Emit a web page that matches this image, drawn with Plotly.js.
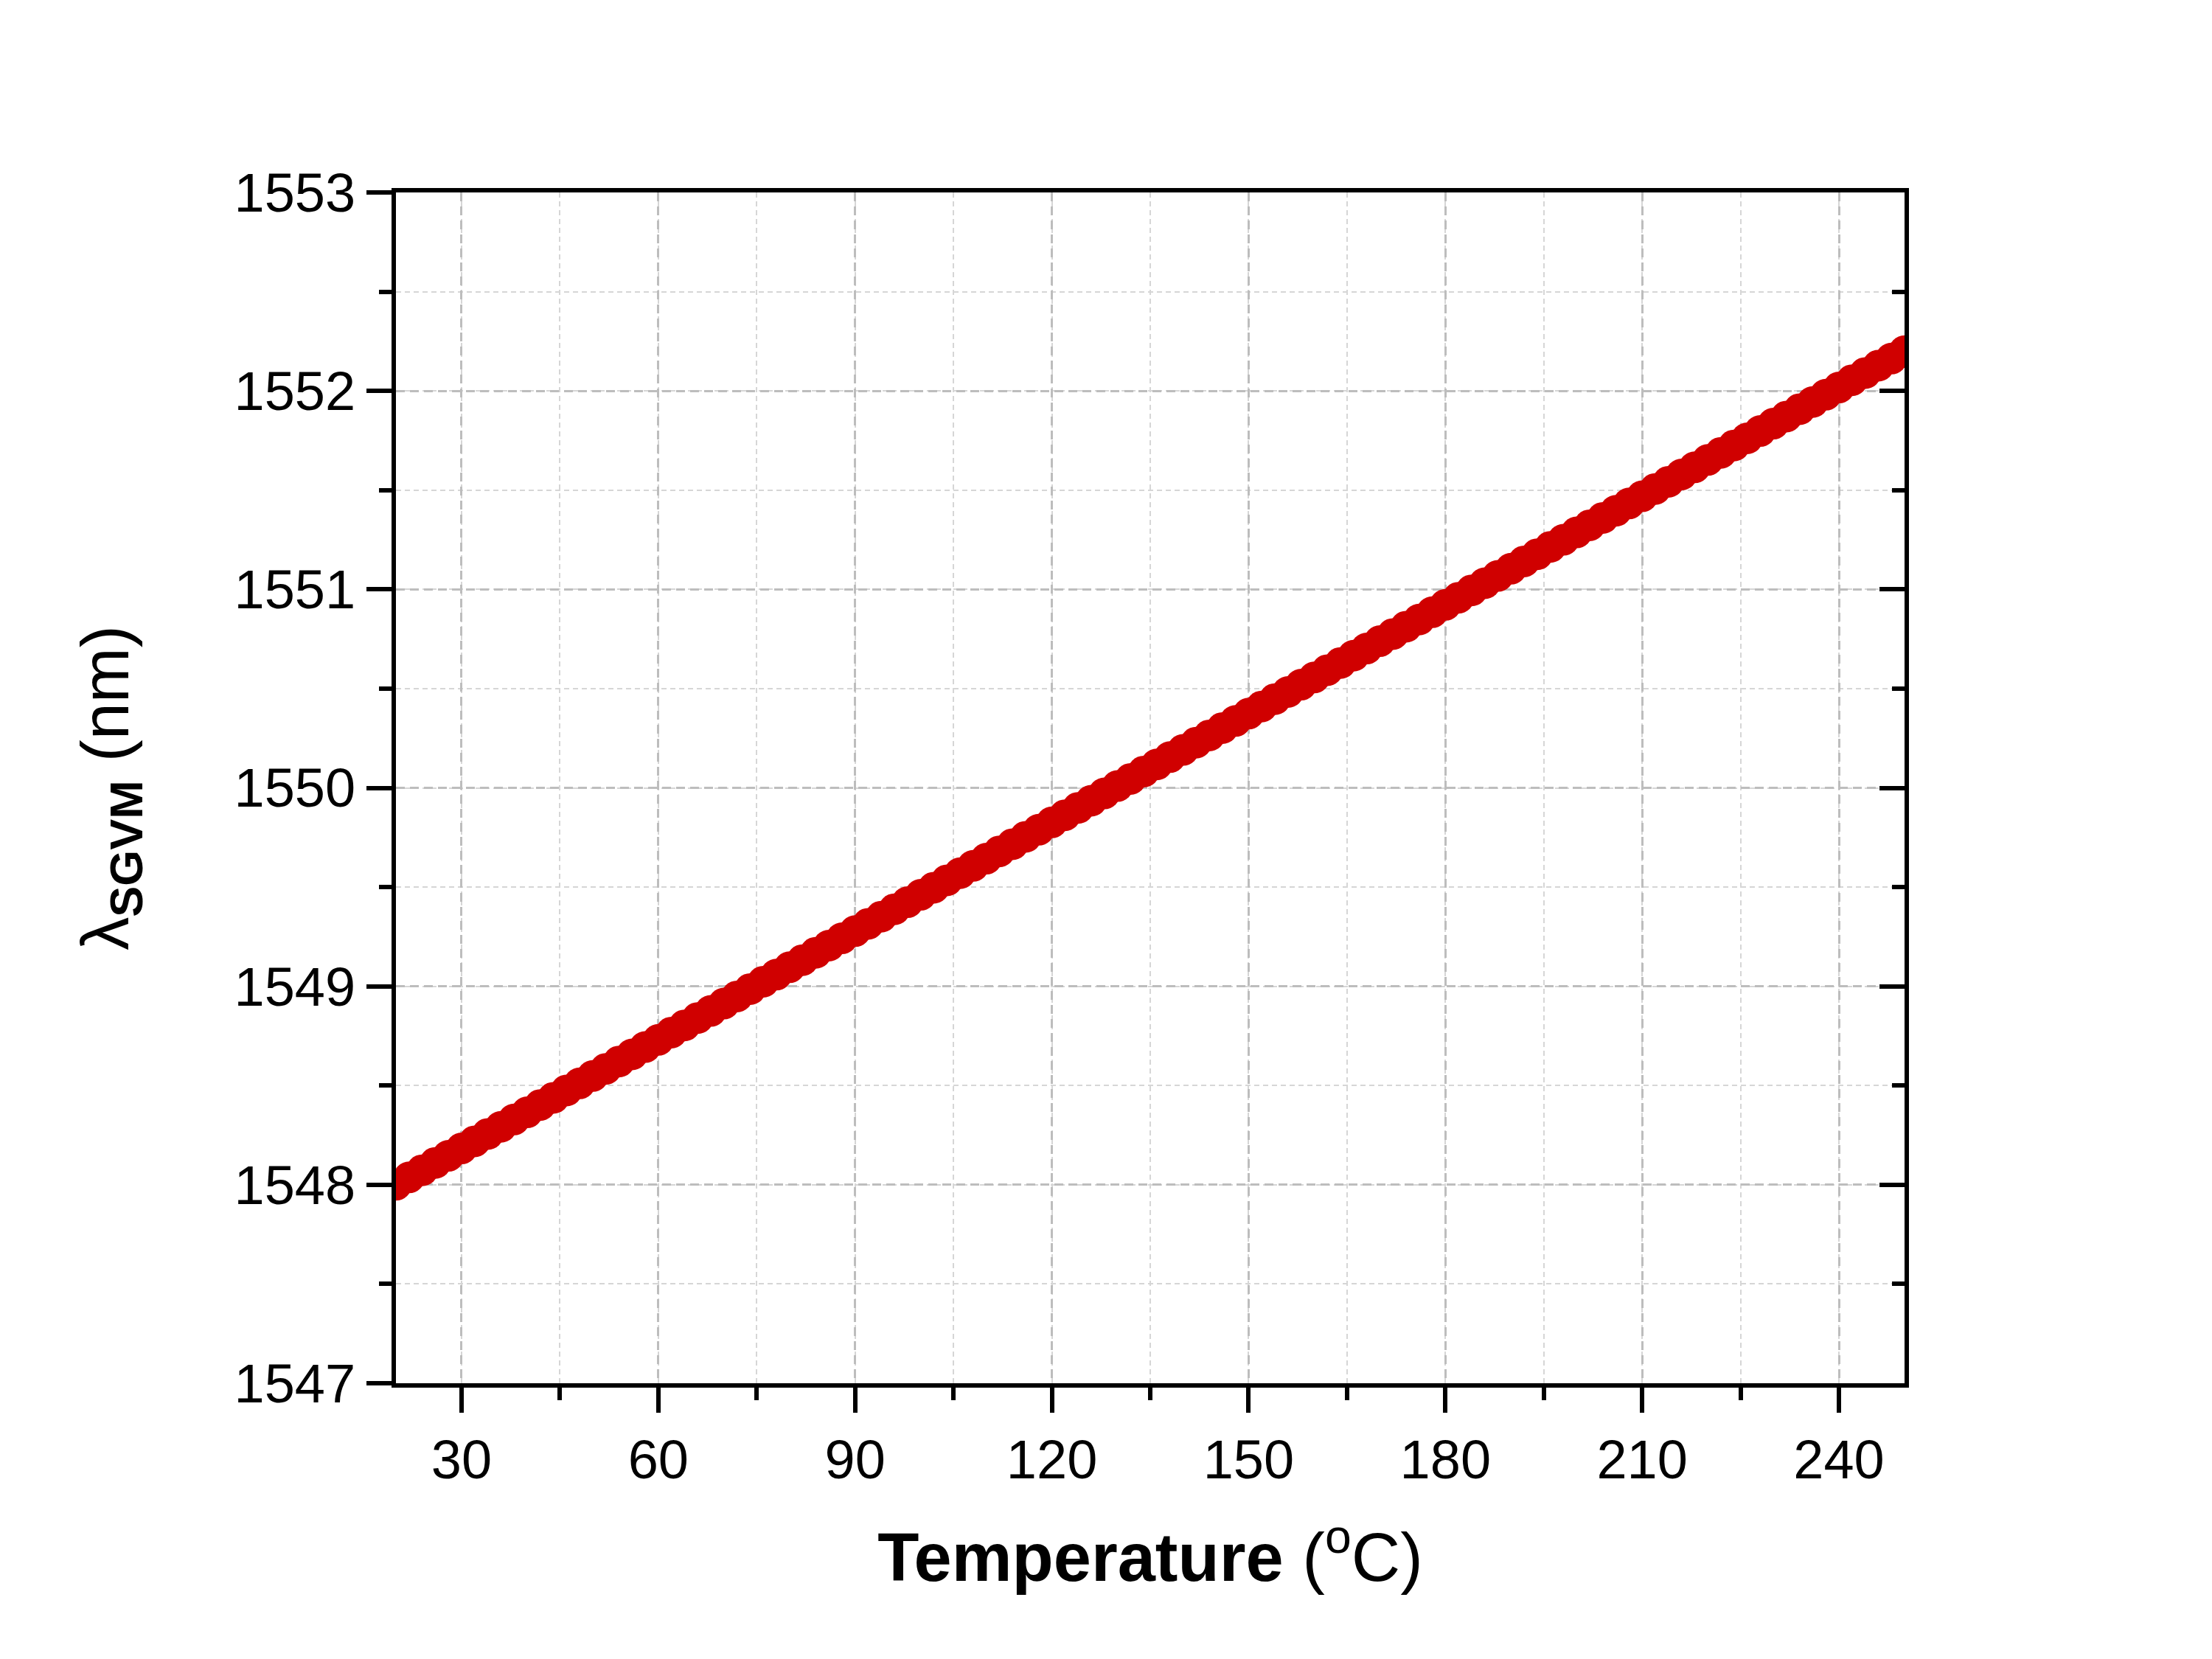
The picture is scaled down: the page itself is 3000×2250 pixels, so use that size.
<!DOCTYPE html>
<html>
<head>
<meta charset="utf-8">
<script src="https://cdn.plot.ly/plotly-3.0.1.min.js"></script>
<style>html,body{margin:0;padding:0;background:#fff;}#chart{width:3000px;height:2250px;}</style>
</head>
<body>
<div id="chart"></div>
<script>
// Temperature (°C)
const temperature = [20,22,24,26,28,30,32,34,36,38,40,42,44,46,48,50,52,54,56,58,60,62,64,66,68,70,72,74,76,78,80,82,84,86,88,90,92,94,96,98,100,102,104,106,108,110,112,114,116,118,120,122,124,126,128,130,132,134,136,138,140,142,144,146,148,150,152,154,156,158,160,162,164,166,168,170,172,174,176,178,180,182,184,186,188,190,192,194,196,198,200,202,204,206,208,210,212,214,216,218,220,222,224,226,228,230,232,234,236,238,240,242,244,246,248,250];
// lambda_SGVM (nm)
const lambdaSGVM = [1548.000,1548.037,1548.073,1548.110,1548.146,1548.183,1548.219,1548.256,1548.292,1548.329,1548.365,1548.402,1548.438,1548.475,1548.511,1548.548,1548.584,1548.621,1548.657,1548.694,1548.730,1548.767,1548.803,1548.840,1548.876,1548.913,1548.949,1548.986,1549.023,1549.059,1549.096,1549.132,1549.169,1549.205,1549.242,1549.278,1549.315,1549.351,1549.388,1549.424,1549.461,1549.497,1549.534,1549.570,1549.607,1549.643,1549.680,1549.716,1549.753,1549.789,1549.826,1549.862,1549.899,1549.935,1549.972,1550.009,1550.045,1550.082,1550.118,1550.155,1550.191,1550.228,1550.264,1550.301,1550.337,1550.374,1550.410,1550.447,1550.483,1550.520,1550.556,1550.593,1550.629,1550.666,1550.702,1550.739,1550.775,1550.812,1550.848,1550.885,1550.922,1550.958,1550.995,1551.031,1551.068,1551.104,1551.141,1551.177,1551.214,1551.250,1551.287,1551.323,1551.360,1551.396,1551.433,1551.469,1551.506,1551.542,1551.579,1551.615,1551.652,1551.688,1551.725,1551.761,1551.798,1551.835,1551.871,1551.908,1551.944,1551.981,1552.017,1552.054,1552.090,1552.127,1552.163,1552.200];

const xTicks = [30,60,90,120,150,180,210,240];
const yTicks = [1547,1548,1549,1550,1551,1552,1553];
const xRange = [20,250];
const yRange = [1547,1553];

const FONT = 'Arial, "Liberation Sans", sans-serif';
const gridMajor = '#bdbdbd';
const gridMinor = '#d6d6d6';

const traces = [
  {
    x: temperature, y: lambdaSGVM, type: 'scatter', mode: 'markers',
    marker: {symbol: 'circle', size: 43, color: '#d00000', line: {width: 0}},
    showlegend: false, hoverinfo: 'x+y'
  },
  {
    x: temperature, y: lambdaSGVM, type: 'scatter', mode: 'markers', yaxis: 'y2',
    marker: {size: 1, opacity: 0}, showlegend: false, hoverinfo: 'skip'
  }
];

const layout = {
  width: 3000, height: 2250,
  margin: {l: 537, r: 417, t: 261, b: 374, pad: 0},
  paper_bgcolor: '#ffffff', plot_bgcolor: '#ffffff',
  font: {family: FONT, color: '#000000'},
  showlegend: false,
  xaxis: {
    range: xRange, autorange: false,
    tickmode: 'array', tickvals: xTicks, ticktext: xTicks.map(String),
    ticks: 'outside', ticklen: 34, tickwidth: 6, tickcolor: '#000',
    tickfont: {family: FONT, size: 74, color: '#000'},
    showline: true, linewidth: 6, linecolor: '#000', mirror: true,
    showgrid: true, gridcolor: gridMajor, gridwidth: 3, griddash: '12px,7px',
    zeroline: false,
    minor: {dtick: 15, tick0: 15, ticks: 'outside', ticklen: 17, tickwidth: 6, tickcolor: '#000',
            showgrid: true, gridcolor: gridMinor, gridwidth: 2, griddash: '7px,5px'},
    title: {text: '<b>Temperature</b> (<sup>o</sup>C)', font: {family: FONT, size: 92, color: '#000'}, standoff: 62}
  },
  yaxis: {
    range: yRange, autorange: false,
    tickmode: 'array', tickvals: yTicks, ticktext: yTicks.map(String),
    ticks: 'outside', ticklen: 34, tickwidth: 6, tickcolor: '#000',
    tickfont: {family: FONT, size: 74, color: '#000'},
    showline: true, linewidth: 6, linecolor: '#000', mirror: true,
    showgrid: true, gridcolor: gridMajor, gridwidth: 3, griddash: '12px,7px',
    zeroline: false,
    minor: {dtick: 0.5, tick0: 1547.5, ticks: 'outside', ticklen: 17, tickwidth: 6, tickcolor: '#000',
            showgrid: true, gridcolor: gridMinor, gridwidth: 2, griddash: '7px,5px'},
    title: {text: 'λ<sub><b>SGVM</b></sub> (nm)', font: {family: FONT, size: 90, color: '#000'}, standoff: 115}
  },
  yaxis2: {
    overlaying: 'y', side: 'right', range: yRange, autorange: false,
    tickmode: 'array', tickvals: yTicks, showticklabels: false,
    ticks: 'inside', ticklen: 34, tickwidth: 6, tickcolor: '#000',
    showline: false, showgrid: false, zeroline: false,
    minor: {dtick: 0.5, tick0: 1547.5, ticks: 'inside', ticklen: 17, tickwidth: 6, tickcolor: '#000', showgrid: false}
  }
};

Plotly.newPlot('chart', traces, layout, {displayModeBar: false, staticPlot: true});
</script>
</body>
</html>
